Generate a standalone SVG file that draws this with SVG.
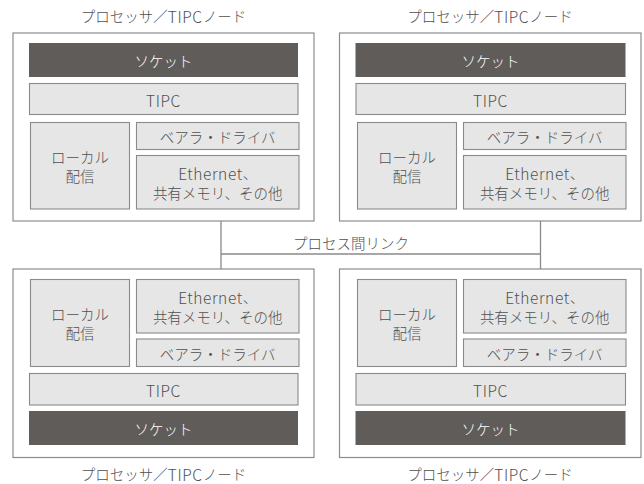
<svg xmlns="http://www.w3.org/2000/svg" width="644" height="484" viewBox="0 0 644 484">
<style>
text{font-family:"Noto Sans CJK JP","Noto Sans",sans-serif;font-size:14.5px;font-weight:300;fill:#505050;text-anchor:middle;dominant-baseline:central}
.outer{fill:#fff;stroke:#8c8c8c;stroke-width:1.2}
.box{fill:#e6e6e6;stroke:#8a8a8a;stroke-width:1.1}
.dark{fill:#5f5c5a}
text.w{fill:#fff}
.lat{font-size:15.5px;letter-spacing:0.6px}
.conn{fill:none;stroke:#8a8a8a;stroke-width:1.3}
</style>
<g id="connectors">
<path class="conn" d="M221 209 V279.5 M540.5 209 V279.5 M221 254 H540.5"/>
<text x="351" y="242.5">プロセス間リンク</text>
</g>
<g id="node-tl">
<text x="163.5" y="15.5">プロセッサ／<tspan class="lat">TIPC</tspan>ノード</text>
<rect class="outer" x="13" y="33" width="301" height="188"/>
<rect class="dark" x="29" y="43" width="269" height="34"/>
<text class="w" x="163.5" y="60.3">ソケット</text>
<rect class="box" x="29.5" y="83.5" width="268.5" height="31"/>
<text class="lat" x="163.5" y="99.5">TIPC</text>
<rect class="box" x="30.5" y="122.5" width="99" height="86.5"/>
<text x="80" y="156.5">ローカル</text>
<text x="80" y="175.5">配信</text>
<rect class="box" x="136.5" y="122.5" width="162.5" height="27"/>
<text x="217.7" y="136.3">ベアラ・ドライバ</text>
<rect class="box" x="136.5" y="155.5" width="162.5" height="53.5"/>
<text x="217.7" y="172.5"><tspan class="lat">Ethernet</tspan>、</text>
<text x="217.7" y="192.5">共有メモリ、その他</text>
</g>
<g id="node-tr">
<text x="490" y="15.5">プロセッサ／<tspan class="lat">TIPC</tspan>ノード</text>
<rect class="outer" x="339.5" y="33" width="301.5" height="188"/>
<rect class="dark" x="355.5" y="43" width="270" height="34"/>
<text class="w" x="490.5" y="60.3">ソケット</text>
<rect class="box" x="356" y="83.5" width="269.5" height="31"/>
<text class="lat" x="490.5" y="99.5">TIPC</text>
<rect class="box" x="357.5" y="122.5" width="99" height="86.5"/>
<text x="407" y="156.5">ローカル</text>
<text x="407" y="175.5">配信</text>
<rect class="box" x="463.5" y="122.5" width="162.5" height="27"/>
<text x="544.7" y="136.3">ベアラ・ドライバ</text>
<rect class="box" x="463.5" y="155.5" width="162.5" height="53.5"/>
<text x="544.7" y="172.5"><tspan class="lat">Ethernet</tspan>、</text>
<text x="544.7" y="192.5">共有メモリ、その他</text>
</g>
<g id="node-bl">
<rect class="outer" x="13" y="269" width="301" height="188.5"/>
<rect class="box" x="136.5" y="279.5" width="162.5" height="53.5"/>
<text x="217.7" y="296.5"><tspan class="lat">Ethernet</tspan>、</text>
<text x="217.7" y="316.5">共有メモリ、その他</text>
<rect class="box" x="136.5" y="339" width="162.5" height="27.5"/>
<text x="217.7" y="353">ベアラ・ドライバ</text>
<rect class="box" x="30.5" y="279.5" width="99" height="87"/>
<text x="80" y="313">ローカル</text>
<text x="80" y="332">配信</text>
<rect class="box" x="29.5" y="373.5" width="268.5" height="31.5"/>
<text class="lat" x="163.5" y="389.5">TIPC</text>
<rect class="dark" x="29" y="411" width="269" height="34"/>
<text class="w" x="163.5" y="428.5">ソケット</text>
<text x="163.5" y="473.5">プロセッサ／<tspan class="lat">TIPC</tspan>ノード</text>
</g>
<g id="node-br">
<rect class="outer" x="339.5" y="269" width="301.5" height="188.5"/>
<rect class="box" x="463.5" y="279.5" width="162.5" height="53.5"/>
<text x="544.7" y="296.5"><tspan class="lat">Ethernet</tspan>、</text>
<text x="544.7" y="316.5">共有メモリ、その他</text>
<rect class="box" x="463.5" y="339" width="162.5" height="27.5"/>
<text x="544.7" y="353">ベアラ・ドライバ</text>
<rect class="box" x="357.5" y="279.5" width="99" height="87"/>
<text x="407" y="313">ローカル</text>
<text x="407" y="332">配信</text>
<rect class="box" x="356" y="373.5" width="269.5" height="31.5"/>
<text class="lat" x="490.5" y="389.5">TIPC</text>
<rect class="dark" x="355.5" y="411" width="270" height="34"/>
<text class="w" x="490.5" y="428.5">ソケット</text>
<text x="490" y="473.5">プロセッサ／<tspan class="lat">TIPC</tspan>ノード</text>
</g>
</svg>
